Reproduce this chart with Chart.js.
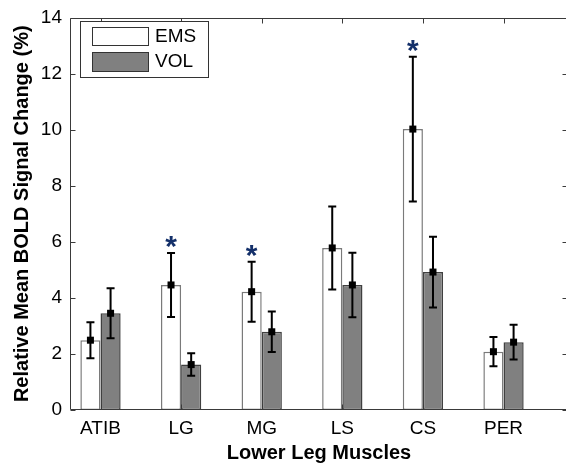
<!DOCTYPE html>
<html>
<head>
<meta charset="utf-8">
<script src="https://cdn.jsdelivr.net/npm/chart.js@4/dist/chart.umd.min.js"></script>
<style>
  html, body { margin: 0; padding: 0; background: #fff; overflow: hidden; }
  canvas { display: block; }
</style>
</head>
<body>
<canvas id="c" width="570" height="466"></canvas>
<script>
// Lower leg muscles and relative mean BOLD signal change (%), mean ± error
const muscles = ['ATIB', 'LG', 'MG', 'LS', 'CS', 'PER'];
const emsMean = [2.49, 4.46, 4.22, 5.78, 10.02, 2.08];
const emsErr  = [0.64, 1.14, 1.07, 1.48, 2.58, 0.52];
const volMean = [3.45, 1.62, 2.79, 4.46, 4.92, 2.42];
const volErr  = [0.89, 0.40, 0.72, 1.15, 1.26, 0.62];
const significant = [false, true, true, false, true, false];
const yTicks = [0, 2, 4, 6, 8, 10, 12, 14];

const FONT = '"Liberation Sans", Arial, Helvetica, sans-serif';
const AXIS_COLOR = '#3a3a3a';

const overlay = {
  id: 'overlay',
  afterDatasetsDraw(chart) {
    const { ctx, scales: { y } } = chart;
    ctx.save();
    // error bars with square mean markers
    [[0, emsMean, emsErr], [1, volMean, volErr]].forEach(([di, m, e]) => {
      chart.getDatasetMeta(di).data.forEach((bar, i) => {
        const cx = bar.x;
        const yt = y.getPixelForValue(m[i] + e[i]);
        const yb = y.getPixelForValue(m[i] - e[i]);
        const ym = y.getPixelForValue(m[i]);
        ctx.strokeStyle = '#000';
        ctx.lineWidth = 2;
        ctx.beginPath();
        ctx.moveTo(cx, yt); ctx.lineTo(cx, yb);
        ctx.moveTo(cx - 4, yt); ctx.lineTo(cx + 4, yt);
        ctx.moveTo(cx - 4, yb); ctx.lineTo(cx + 4, yb);
        ctx.stroke();
        ctx.fillStyle = '#000';
        ctx.fillRect(cx - 3.5, ym - 3.5, 7, 7);
      });
    });
    // significance markers above EMS bars
    ctx.fillStyle = '#14306a';
    ctx.font = 'bold 30px ' + FONT;
    ctx.textAlign = 'center';
    ctx.textBaseline = 'alphabetic';
    const emsMeta = chart.getDatasetMeta(0);
    significant.forEach((s, i) => {
      if (!s) return;
      const cx = emsMeta.data[i].x;
      const top = y.getPixelForValue(emsMean[i] + emsErr[i]);
      const cy = top - 11;
      const mt = ctx.measureText('*');
      const mid = (mt.actualBoundingBoxAscent - mt.actualBoundingBoxDescent) / 2;
      ctx.fillText('*', cx, cy + mid);
    });
    ctx.restore();
  },
  afterDraw(chart) {
    const { ctx, chartArea: a, scales: { x, y } } = chart;
    ctx.save();
    // axes box
    ctx.strokeStyle = AXIS_COLOR;
    ctx.lineWidth = 1;
    const L = Math.round(a.left) + 0.5, R = Math.round(a.right) - 0.5;
    const T = Math.round(a.top) + 0.5, B = Math.round(a.bottom) - 0.5;
    ctx.beginPath();
    ctx.moveTo(L, T); ctx.lineTo(R, T); ctx.lineTo(R, B); ctx.lineTo(L, B); ctx.closePath();
    // inward tick marks
    yTicks.forEach(v => {
      const py = Math.round(y.getPixelForValue(v)) + 0.5;
      ctx.moveTo(L, py); ctx.lineTo(L + 5, py);
      ctx.moveTo(R, py); ctx.lineTo(R - 5, py);
    });
    muscles.forEach((_, i) => {
      const px = Math.round(x.getPixelForValue(i + 1)) + 0.5;
      ctx.moveTo(px, T); ctx.lineTo(px, T + 5);
      ctx.moveTo(px, B); ctx.lineTo(px, B - 5);
    });
    ctx.stroke();

    // legend
    ctx.fillStyle = '#fff';
    ctx.fillRect(80, 21, 128, 56);
    ctx.strokeStyle = '#333';
    ctx.strokeRect(80.5, 21.5, 128, 56);
    ctx.fillStyle = '#fff';
    ctx.fillRect(92, 27, 56, 18);
    ctx.strokeRect(92.5, 27.5, 56, 18);
    ctx.fillStyle = '#808080';
    ctx.fillRect(92, 52, 56, 19);
    ctx.strokeRect(92.5, 52.5, 56, 19);
    ctx.fillStyle = '#000';
    ctx.font = '19px ' + FONT;
    ctx.textAlign = 'left';
    ctx.textBaseline = 'middle';
    ctx.fillText(chart.data.datasets[0].label, 155, 37);
    ctx.fillText(chart.data.datasets[1].label, 155, 62);

    // axis titles
    ctx.font = 'bold 20px ' + FONT;
    ctx.textAlign = 'center';
    ctx.textBaseline = 'alphabetic';
    ctx.fillText('Lower Leg Muscles', (a.left + a.right) / 2, 459);
    ctx.translate(28, (a.top + a.bottom) / 2);
    ctx.rotate(-Math.PI / 2);
    ctx.fillText('Relative Mean BOLD Signal Change (%)', 0, 0);
    ctx.restore();
  }
};

new Chart(document.getElementById('c'), {
  type: 'bar',
  data: {
    datasets: [
      {
        label: 'EMS',
        data: emsMean.map((v, i) => ({ x: i + 1, y: v })),
        backgroundColor: '#ffffff',
        borderColor: '#7a7a7a',
        borderWidth: 1.5,
        borderSkipped: false,
        categoryPercentage: 0.5,
        barPercentage: 1.0
      },
      {
        label: 'VOL',
        data: volMean.map((v, i) => ({ x: i + 1, y: v })),
        backgroundColor: '#808080',
        borderColor: '#404040',
        borderWidth: 1.5,
        borderSkipped: false,
        categoryPercentage: 0.5,
        barPercentage: 1.0
      }
    ]
  },
  options: {
    responsive: false,
    animation: false,
    devicePixelRatio: 1,
    layout: { padding: { top: 11, right: 2, left: 0, bottom: 0 } },
    plugins: { legend: { display: false }, tooltip: { enabled: false } },
    scales: {
      x: {
        type: 'linear',
        offset: false,
        min: 0.6216,
        max: 6.80,
        grid: { display: false, drawTicks: false, offset: false },
        border: { display: false },
        afterBuildTicks: s => { s.ticks = muscles.map((_, i) => ({ value: i + 1 })); },
        afterFit: s => { s.height = 56; s.paddingLeft = 0; s.paddingRight = 0; },
        ticks: {
          autoSkip: false,
          maxRotation: 0,
          padding: 9,
          color: '#000',
          font: { family: FONT, size: 19, lineHeight: 1 },
          callback: v => muscles[v - 1] ?? ''
        }
      },
      y: {
        min: 0,
        max: 14,
        grid: { display: false, drawTicks: false },
        border: { display: false },
        afterBuildTicks: s => { s.ticks = yTicks.map(v => ({ value: v })); },
        afterFit: s => { s.width = 70; },
        ticks: {
          padding: 8,
          color: '#000',
          font: { family: FONT, size: 19, lineHeight: 1 }
        }
      }
    }
  },
  plugins: [overlay]
});
</script>
</body>
</html>
